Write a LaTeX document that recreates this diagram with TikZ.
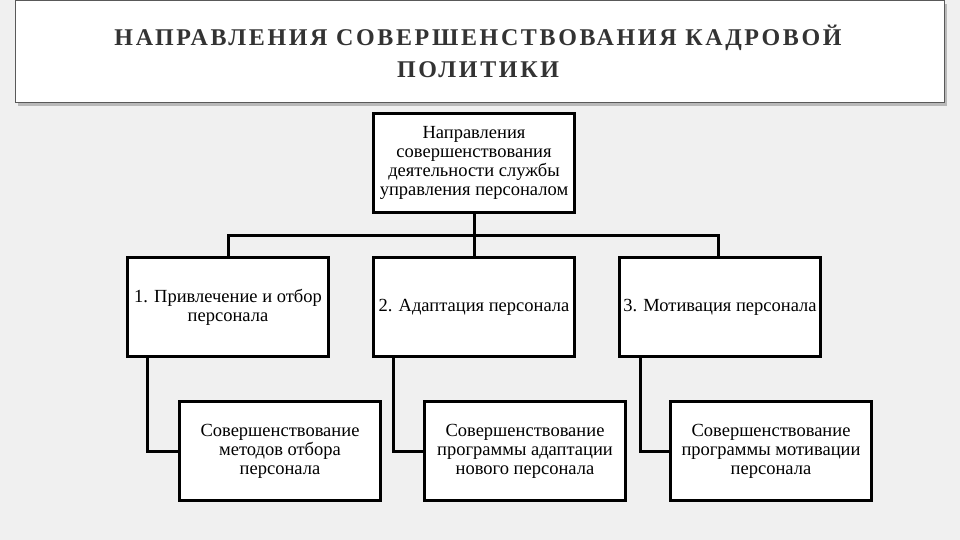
\documentclass[tikz,border=0pt]{standalone}
\usepackage{fontspec}
\setmainfont{Liberation Serif}
\begin{document}
\begin{tikzpicture}[x=1pt,y=-1pt,
  bx/.style={draw=black,line width=3pt,fill=white,minimum width=201pt,minimum height=99pt,inner sep=1pt,align=center,font=\fontsize{18.5}{19}\selectfont,anchor=north west},
  ln/.style={line width=3pt}]
\fill[gray!12] (0,0) rectangle (960,540);
\useasboundingbox (0,0) rectangle (960,540);
\fill[gray!55] (18,4) rectangle (947,106);
\node[draw=gray!70!black,line width=1.2pt,fill=white,minimum width=929pt,minimum height=102pt,anchor=north west,inner sep=0pt] (title) at (15,0) {};
\node[align=center,font=\fontsize{24}{32}\selectfont\bfseries\addfontfeatures{LetterSpace=11},text=black!80] (tt) at (478,51) {НАПРАВЛЕНИЯ СОВЕРШЕНСТВОВАНИЯ КАДРОВОЙ\\ПОЛИТИКИ};
\node[bx] (top) at (372,112) {Направления\\совершенствования\\деятельности службы\\управления персоналом};
\node[bx] (a) at (126,256) {1. Привлечение и отбор\\персонала};
\node[bx] (b) at (372,256) {2. Адаптация персонала};
\node[bx] (c) at (618,256) {3. Мотивация персонала};
\node[bx] (a2) at (178,400) {Совершенствование\\методов отбора\\персонала};
\node[bx] (b2) at (423,400) {Совершенствование\\программы адаптации\\нового персонала};
\node[bx] (c2) at (669,400) {Совершенствование\\программы мотивации\\персонала};
\coordinate (mid) at (top.south |- 0,235);
\draw[ln] (top.south) -- (mid);
\draw[ln] (a.north -| 228,0) |- (mid) -| (c.north -| 718,0);
\draw[ln] (mid) -- (b.north);
\draw[ln] (a.south -| 147,0) |- (a2.west);
\draw[ln] (b.south -| 393,0) |- (b2.west);
\draw[ln] (c.south -| 640,0) |- (c2.west);
\end{tikzpicture}
\end{document}
